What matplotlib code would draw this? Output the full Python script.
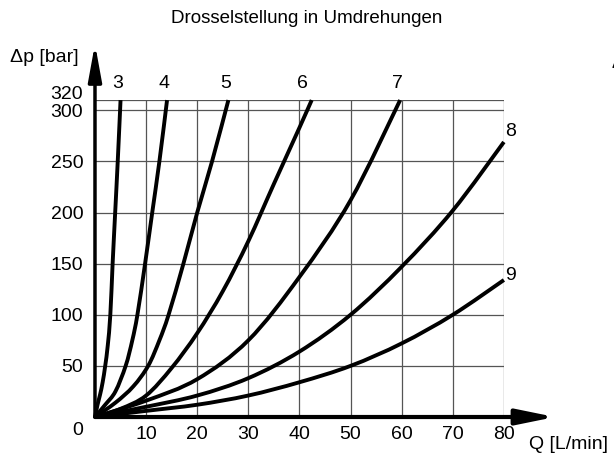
import numpy as np
import matplotlib
matplotlib.use('Agg')
import matplotlib.pyplot as plt
from matplotlib.path import Path
from matplotlib.patches import PathPatch

plt.rcParams['font.family'] = ['Liberation Sans', 'DejaVu Sans']

# Kennlinien (Q in L/min, dp in bar)
q3 = [0, 0.5, 1.0, 1.5, 2.0, 2.5, 3.0, 3.45, 3.95, 4.45, 5.0]
p3 = [0, 12, 22, 34, 50, 70, 100, 150, 200, 250, 310]
q4 = [0, 2.0, 4.0, 6.0, 7.3, 8.3, 9.8, 11.2, 12.6, 14.1]
p4 = [0, 12, 25, 50, 75, 100, 150, 200, 250, 310]
q5 = [0, 4.0, 7.5, 10.4, 12.6, 14.4, 17.3, 20.0, 22.9, 26.1]
p5 = [0, 14, 30, 50, 75, 100, 150, 200, 250, 310]
q6 = [0, 5, 10, 15, 20, 25, 30, 35, 40, 42.4]
p6 = [0, 8, 21, 48, 82, 123, 172, 228, 283, 310]
q7 = [0, 10, 20, 30, 40, 50, 59.7]
p7 = [0, 16, 37, 75, 137, 212, 310]
q8 = [0, 10, 20, 30, 40, 50, 60, 70, 80]
p8 = [0, 10, 21, 38, 64, 100, 147, 202, 269]
q9 = [0, 10, 20, 30, 40, 50, 60, 70, 80]
p9 = [0, 6, 12, 21, 34, 50, 72, 100, 134]

curves = [(q3, p3), (q4, p4), (q5, p5), (q6, p6), (q7, p7), (q8, p8), (q9, p9)]
names = ['3', '4', '5', '6', '7', '8', '9']
# Beschriftungspositionen der Kurven
label_q = [4.5, 13.5, 25.6, 40.5, 59.1, 80.3, 80.3]
label_p = [326, 326, 326, 326, 326, 279, 138]

xticks = [10, 20, 30, 40, 50, 60, 70, 80]
yticks = [50, 100, 150, 200, 250, 300]
ytop = 310


def smooth_path(q, p):
    # glatte Linie durch die Punkte (Catmull-Rom als Bezier)
    pts = np.column_stack([q, p]).astype(float)
    ext = np.vstack([pts[0], pts, pts[-1]])
    verts = [pts[0]]
    codes = [Path.MOVETO]
    for i in range(1, len(ext) - 2):
        p0, p1, p2, p3_ = ext[i - 1], ext[i], ext[i + 1], ext[i + 2]
        verts += [p1 + (p2 - p0) / 6, p2 - (p3_ - p1) / 6, p2]
        codes += [Path.CURVE4] * 3
    return Path(verts, codes)


fig = plt.figure(figsize=(6.14, 4.62), dpi=100)
ax = fig.add_axes([0.1547, 0.0974, 0.666, 0.686])
ax.set_xlim(0, 80)
ax.set_ylim(0, ytop)
for s in ax.spines.values():
    s.set_visible(False)

# Gitter
grid_c = '#555555'
ax.vlines(xticks, 0, ytop, color=grid_c, lw=0.9, zorder=1)
ax.hlines(yticks + [ytop], 0, 80, color=grid_c, lw=0.9, zorder=1)

# Kurven
for (q, p) in curves:
    ax.add_patch(PathPatch(smooth_path(q, p), fill=False, edgecolor='black',
                           lw=2.8, capstyle='butt', zorder=3, clip_on=False))

for n, lq, lp in zip(names, label_q, label_p):
    ha = 'left' if n in ('8', '9') else 'center'
    ax.text(lq, lp, n, fontsize=14, ha=ha, va='center')

# Achsen mit Pfeilen
ax.annotate('', xy=(90, 0), xytext=(0, 0), annotation_clip=False,
            arrowprops=dict(arrowstyle='-|>,head_length=2.3,head_width=0.47',
                            lw=3, color='black', shrinkA=0, shrinkB=0, mutation_scale=10))
ax.annotate('', xy=(0, 365), xytext=(0, 0), annotation_clip=False,
            arrowprops=dict(arrowstyle='-|>,head_length=2.2,head_width=0.4',
                            lw=2.5, color='black', shrinkA=0, shrinkB=0, mutation_scale=10))

ax.set_xticks(xticks)
ax.set_xticklabels([str(v) for v in xticks])
ax.set_yticks(yticks)
ax.set_yticklabels([str(v) for v in yticks])
ax.tick_params(axis='x', length=0, pad=6.5, labelsize=14)
ax.tick_params(axis='y', length=0, pad=8.5, labelsize=14)

ax.text(-2.4, ytop + 5, '320', fontsize=14, ha='right', va='center')
ax.text(-3.3, -13, '0', fontsize=14, ha='center', va='center')
ax.text(85, -27, 'Q [L/min]', fontsize=14, ha='left', va='center')
ax.text(-16.6, 352, 'Δp [bar]', fontsize=14, ha='left', va='center')

fig.text(0.5, 0.959, 'Drosselstellung in Umdrehungen', fontsize=13.5, ha='center', va='center')
fig.text(611 / 614, 1 - 63 / 462, 'Δ', fontsize=12, ha='left', va='center')

fig.savefig('out.png', dpi=100)
